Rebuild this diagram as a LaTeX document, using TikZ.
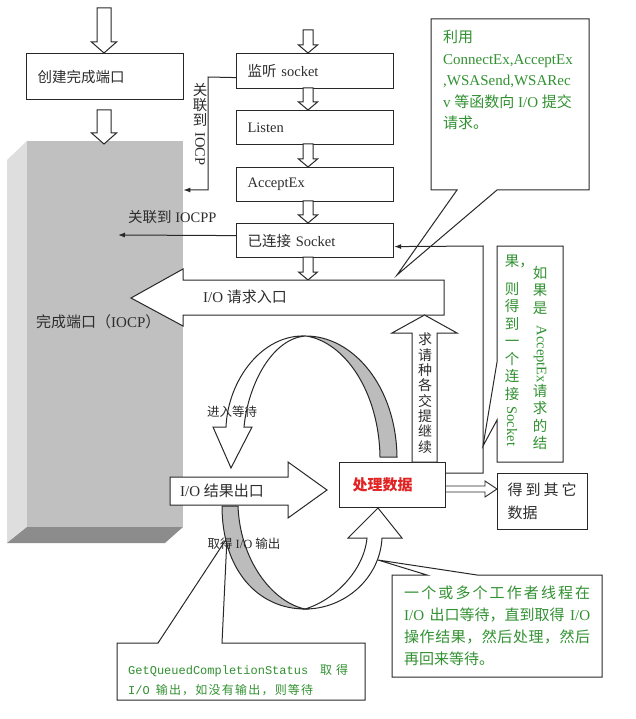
\documentclass[tikz,border=0pt]{standalone}
\usepackage{fontspec}
\usepackage{graphicx}
\setmainfont{Liberation Serif}
\setmonofont{Liberation Mono}
\newfontfamily\cjk{Noto Sans CJK SC}
\usetikzlibrary{calc,arrows.meta}
\XeTeXlinebreaklocale "zh"
\XeTeXlinebreakskip=0pt plus 1pt
\newcommand\zh[1]{{\cjk #1}}
\newcommand\spread[2]{\makebox[#1pt][s]{#2}}
\newcommand\vrot[1]{\rotatebox{-90}{#1}}
\definecolor{txt}{RGB}{45,45,45}
\definecolor{grn}{RGB}{50,145,50}
\definecolor{redt}{RGB}{225,35,35}
\definecolor{face}{RGB}{192,192,192}
\definecolor{sideface}{RGB}{222,222,222}
\definecolor{botface}{RGB}{140,140,140}
\definecolor{bandgray}{RGB}{188,188,188}
\definecolor{edge}{RGB}{40,40,40}
\tikzset{
  every node/.style={text=txt, inner sep=0pt},
  box/.style={draw=edge, line width=1.2pt, fill=white, anchor=north west, align=left,
    inner xsep=11pt, font=\fontsize{14.5}{17}\selectfont},
  hollowarrow/.style={draw=edge, line width=1pt, fill=white, line join=miter},
  calloutbox/.style={draw=edge, line width=1pt, fill=white},
  conn/.style={draw=edge, line width=1pt, -{Latex[length=7pt,width=5pt]}},
  lbl/.style={font=\fontsize{14.5}{17}\selectfont},
  smalllbl/.style={font=\fontsize{12.5}{15}\selectfont},
  gtext/.style={text=grn, anchor=north west, align=left},
  vcol/.style={align=center, anchor=north},
}
\newcommand\hdown[6]{%
  \draw[hollowarrow] ({#1-#4},#2) -- ({#1-#4},{#3-#6}) -- ({#1-#5},{#3-#6}) -- (#1,#3)
    -- ({#1+#5},{#3-#6}) -- ({#1+#4},{#3-#6}) -- ({#1+#4},#2) -- cycle;}
\begin{document}
\begin{tikzpicture}[x=1pt,y=-1pt]
\fill[white] (0,0) rectangle (636,719);
\useasboundingbox (0,0) rectangle (636,719);

% IOCP block
\fill[sideface] (7,160) -- (27,141) -- (27,527) -- (7,543) -- cycle;
\fill[botface] (27,527) -- (183,527) -- (165,543) -- (7,543) -- cycle;
\node[fill=face, minimum width=156pt, minimum height=386pt, anchor=north west] (iocp) at (27,141) {};
\node[lbl, anchor=west, font=\fontsize{15}{17}\selectfont] (iocpl) at (36,322) {\zh{完成端口（}IOCP\zh{）}};

% left column
\hdown{104}{8}{53}{7}{12.5}{11}
\node[box, text width=135pt, minimum height=46pt] (create) at (26,53) {\zh{创建完成端口}};
\hdown{104}{110}{144}{7}{12.5}{11}

% right column
\hdown{308}{30}{53}{5}{9.5}{8}
\node[box, text width=135pt, minimum height=35pt] (mon) at (236,53) {\zh{监听} socket};
\hdown{308}{88}{110}{5}{9.5}{8}
\node[box, text width=135pt, minimum height=34pt] (lsn) at (236,110) {Listen};
\hdown{308}{144}{167}{5}{9.5}{8}
\node[box, text width=135pt, minimum height=34pt] (acc) at (236,167) {AcceptEx};
\hdown{308}{201}{223}{5}{9.5}{8}
\node[box, text width=135pt, minimum height=34pt] (sock) at (236,223) {\zh{已连接} Socket};
\hdown{308}{257}{280}{5}{9.5}{8}

% association connectors
\draw[conn] ([yshift=-6.5pt]mon.west) -- (208,77) -- (208,190) -- (iocp.east |- 0,190);
\node[vcol, font=\fontsize{14.5}{15}\selectfont] (rel1) at (200,83) {\zh{关}\\\zh{联}\\\zh{到}\\[-8pt]\vrot{IOCP}};
\coordinate (rel2end) at (118,235);
\draw[conn] ([yshift=5pt]sock.west) -- (rel2end);
\node[lbl, anchor=west] (rel2) at (128,217) {\zh{关联到} IOCPP};

% callout top right
\draw[calloutbox] (431,19) -- (589,19) -- (589,190) -- (497,190) -- (397,275) -- (457,190) -- (431,190) -- cycle;
\node[gtext, font=\fontsize{15}{21.5}\selectfont] (ct1) at (443,30)
  {\zh{利用}\\ConnectEx,AcceptEx\\,WSASend,WSARec\\v \zh{等函数向} I/O \zh{提交}\\\zh{请求。}};

% big request-entry arrow
\draw[hollowarrow] (444,280) -- (183,280) -- (183,269) -- (131,298) -- (183,326) -- (183,315) -- (444,315) -- cycle;
\node[lbl, anchor=west, font=\fontsize{15}{17}\selectfont] (inl) at (203,297) {I/O \zh{请求入口}};

% right vertical callout
\draw[calloutbox] (497,246) -- (563,246) -- (563,462) -- (497,462) -- (497,420) -- (483,446) -- (497,362) -- cycle;
\node[vcol, text=grn, font=\fontsize{14.5}{17.5}\selectfont] (cr) at (540,266)
  {\zh{如}\\\zh{果}\\\zh{是}\\[-5pt]\vrot{AcceptEx}\\\zh{请}\\\zh{求}\\\zh{的}\\\zh{结}};
\node[vcol, text=grn, font=\fontsize{14.5}{17.5}\selectfont] (cl) at (512,255)
  {\zh{果\rlap{，}}\\[10pt]\zh{则}\\\zh{得}\\\zh{到}\\\zh{一}\\\zh{个}\\\zh{连}\\\zh{接}\\[-10pt]\vrot{Socket}};

% bottom-left callout
\draw[calloutbox] (117,643) -- (158,643) -- (227,538) -- (222,643) -- (365,643) -- (365,700) -- (117,700) -- cycle;
\node[gtext, font=\fontsize{12}{20}\selectfont] (ct2) at (128,664)
  {\texttt{GetQueuedCompletionStatus}\hspace{12pt}\zh{取}\hspace{4pt}\zh{得}\\
   \spread{185}{\texttt{I/O}\hspace{6pt}\zh{输\hfill 出\hfill ，\hfill 如\hfill 没\hfill 有\hfill 输\hfill 出\hfill ，\hfill 则\hfill 等\hfill 待}}};

% bottom-right callout
\draw[calloutbox] (392,575) -- (427,575) -- (378,560) -- (477,575) -- (602,575) -- (602,677) -- (392,677) -- cycle;
\node[gtext, font=\fontsize{15}{22}\selectfont] (ct3) at (404,586)
  {\spread{186}{\zh{一\hfill 个\hfill 或\hfill 多\hfill 个\hfill 工\hfill 作\hfill 者\hfill 线\hfill 程\hfill 在}}\\
   \spread{186}{I/O\hfill\zh{出口等待，直到取得}\hfill I/O}\\
   \spread{186}{\zh{操\hfill 作\hfill 结\hfill 果\hfill ，\hfill 然\hfill 后\hfill 处\hfill 理\hfill ，\hfill 然\hfill 后}}\\
   \zh{再回来等待。}};

% top ribbon arc
\draw[draw=edge, line width=1pt, fill=bandgray] (397,457) .. controls (396,385) and (352,336) .. (306,336)
   .. controls (345,342) and (379,392) .. (380,457) -- cycle;
\draw[hollowarrow] (306,336) .. controls (262,334) and (228,380) .. (226,427) -- (213,427) -- (231,468)
   -- (252,427) -- (244,427) .. controls (248,385) and (272,338) .. (306,336) -- cycle;

% bottom ribbon arc
\draw[draw=edge, line width=1pt, fill=bandgray] (222,506) .. controls (222,570) and (258,609) .. (305,609)
   .. controls (272,602) and (240,560) .. (238,506) -- cycle;
\draw[hollowarrow] (305,609) .. controls (345,609) and (380,578) .. (382,538) -- (402,538) -- (378,508)
   -- (348,538) -- (367,538) .. controls (364,570) and (335,600) .. (305,609) -- cycle;

% result exit arrow
\draw[hollowarrow] (170,477) -- (288,477) -- (288,462) -- (327,490) -- (288,518) -- (288,505) -- (170,505) -- cycle;
\node[lbl, anchor=west, font=\fontsize{15}{17}\selectfont] (outl) at (180,491) {I/O \zh{结果出口}};

% processing box
\node[box, text width=80pt, inner xsep=13pt, minimum height=45pt, font=\fontsize{15}{17}\selectfont] (proc) at (339,462)
  {{\color{redt}\cjk\bfseries 处理数据}};

% continue-submit arrow
\draw[hollowarrow] (412,462) -- (412,333) -- (392,333) -- (424.5,315) -- (457,333) -- (437,333) -- (437,462) -- cycle;
\node[vcol, font=\fontsize{14}{15.3}\selectfont] (cont) at (425,333)
  {\zh{求}\\\zh{请}\\\zh{种}\\\zh{各}\\\zh{交}\\\zh{提}\\\zh{继}\\\zh{续}};

% other data box
\node[box, text width=70pt, inner xsep=10pt, minimum height=56pt, font=\fontsize{15}{23}\selectfont] (other) at (497,473)
  {\spread{69}{\zh{得\hfill 到\hfill 其\hfill 它}}\\\zh{数据}};
\draw[hollowarrow, line width=0.9pt] (proc.east |- 0,486) -- (485,486) -- (485,481) -- (other.west |- 0,489)
   -- (485,497) -- (485,492) -- (proc.east |- 0,492);

% connector from processing back to socket
\draw[conn] ([yshift=-11pt]proc.north east) -- (483,473) -- (483,246) -- ([yshift=-6pt]sock.east);

% loop labels
\node[smalllbl] (waitl) at (232,412) {\zh{进入等待}};
\node[smalllbl] (getl) at (244,544) {\zh{取得} I/O \zh{输出}};
\end{tikzpicture}
\end{document}
